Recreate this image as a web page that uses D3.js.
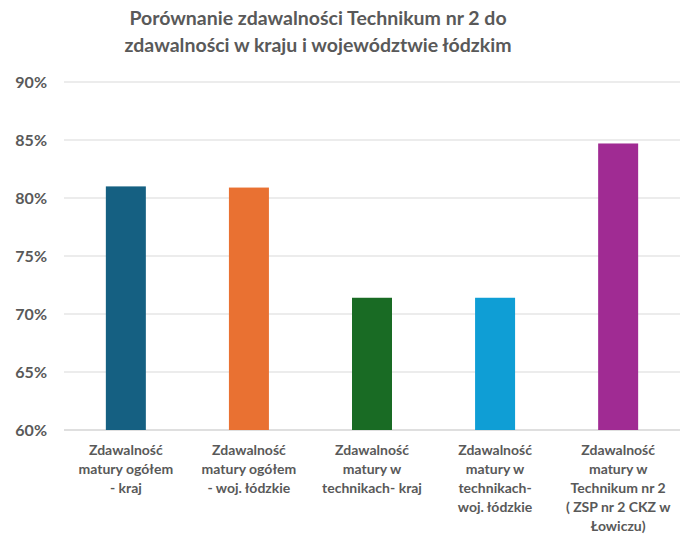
<!DOCTYPE html>
<html><head><meta charset="utf-8">
<script src="https://cdn.jsdelivr.net/npm/d3@7"></script>
<style>body{margin:0;background:#fff;font-family:Lato,"Open Sans",sans-serif;}</style>
</head><body><svg id="c" width="696" height="550"></svg>
<script>
const categories = [
  ["Zdawalność","matury ogółem","- kraj"],
  ["Zdawalność","matury ogółem","- woj. łódzkie"],
  ["Zdawalność","matury w","technikach- kraj"],
  ["Zdawalność","matury w","technikach-","woj. łódzkie"],
  ["Zdawalność","matury w","Technikum nr 2","( ZSP nr 2 CKZ w","Łowiczu)"]
];
const values = [81.0, 80.9, 71.4, 71.4, 84.7];
const colors = ["#156082","#E97132","#196B24","#0F9ED5","#A02B93"];
const yTicks = [60,65,70,75,80,85,90];

const svg = d3.select("#c");
const x = d3.scaleBand().domain(d3.range(values.length)).range([64,680]).paddingInner(0.675).paddingOuter(0.34);
const y = d3.scaleLinear().domain([60,90]).range([430,82]);
const txt = "#595959";

svg.append("text").attr("x",318).attr("y",25).attr("text-anchor","middle")
  .attr("font-size",19.5).attr("font-weight","bold").attr("fill",txt)
  .selectAll("tspan").data(["Porównanie zdawalności Technikum nr 2 do","zdawalności w kraju i województwie łódzkim"])
  .join("tspan").attr("x",318).attr("dy",(d,i)=>i?27:0).text(d=>d);

svg.append("g").selectAll("line").data(yTicks).join("line")
  .attr("x1",64).attr("x2",680).attr("y1",d=>y(d)).attr("y2",d=>y(d))
  .attr("stroke",d=>d===60?"#bfbfbf":"#d9d9d9").attr("stroke-width",1);

svg.append("g").selectAll("text").data(yTicks).join("text")
  .attr("x",47).attr("y",d=>y(d)+6).attr("text-anchor","end")
  .attr("font-size",16).attr("font-weight","bold").attr("fill",txt).text(d=>d+"%");

svg.append("g").selectAll("rect").data(values).join("rect")
  .attr("x",(d,i)=>x(i)).attr("width",x.bandwidth())
  .attr("y",d=>y(d)).attr("height",d=>y(60)-y(d)).attr("fill",(d,i)=>colors[i]);

const g = svg.append("g");
categories.forEach((lines,i)=>{
  const cx = x(i)+x.bandwidth()/2;
  g.append("text").attr("text-anchor","middle").attr("font-size",14).attr("font-weight","bold").attr("fill",txt)
   .selectAll("tspan").data(lines).join("tspan").attr("x",cx).attr("y",(d,j)=>455+j*19).text(d=>d);
});
</script></body></html>
